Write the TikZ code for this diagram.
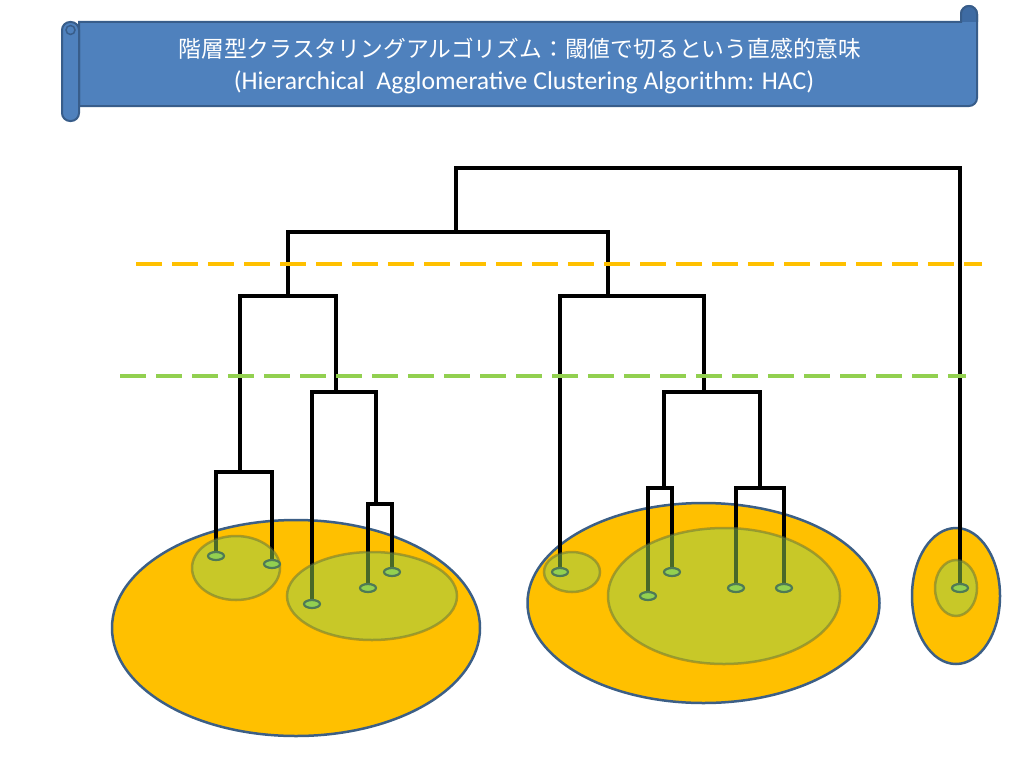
\documentclass[tikz,border=0pt]{standalone}
\usepackage{fontspec}
\setmainfont{Carlito}
\newfontfamily\jpfont{Noto Sans CJK JP}
\usepackage{tikz}
\usetikzlibrary{shapes,positioning}

\definecolor{scrollblue}{HTML}{4F81BD}
\definecolor{scrolledge}{HTML}{385D8A}
\definecolor{scrollshade}{HTML}{3E6BA3}
\definecolor{clusterorange}{HTML}{FFC000}
\definecolor{clusteredge}{HTML}{3C5F86}
\definecolor{subgreen}{HTML}{92D050}
\definecolor{subedge}{HTML}{60703A}
\definecolor{leafedge}{HTML}{4F7A55}

\begin{document}
\begin{tikzpicture}[x=1pt, y=-1pt,
          scroll/.style={draw=scrolledge, line width=2pt, fill=scrollblue},
          branch/.style={line width=3.4pt, black},
          cutline/.style={line width=3.4pt, dash pattern=on 26pt off 10pt},
          cluster/.style={draw=clusteredge, line width=2.5pt, fill=clusterorange},
          subcluster/.style={draw=subedge, line width=2.5pt, fill=subgreen, fill opacity=0.5, draw opacity=0.5},
          leaf/.style={ellipse, draw=leafedge, line width=2.2pt, fill=subgreen, minimum width=16pt, minimum height=8pt, inner sep=0pt}
        ]

          \useasboundingbox (0,0) rectangle (1024,768);

          % Title scroll
          \draw[scroll] (79,22) -- (961,22) -- (961,14) arc (180:360:8) -- (977,98) arc (0:90:8) -- (79,106) -- cycle;
          \draw[scroll, fill=scrollshade] (961,22) -- (961,14) arc (180:360:8) -- (977,22);
          \draw[scroll, rounded corners=8pt] (62,22) rectangle (79,121);
          \draw[scrolledge, line width=1.5pt] (70.5,30) circle (4.5);
          \node[font=\jpfont\fontsize{22.8}{27}\selectfont, text=white] (title) at (520,49) {階層型クラスタリングアルゴリズム：閾値で切るという直感的意味};
          \node[font=\fontsize{25.7}{30}\selectfont, text=white] (subtitle) at (524,82) {(Hierarchical\ \ Agglomerative Clustering Algorithm: HAC)};

          % Clusters at the coarse cut
          \draw[cluster] (296,628) ellipse [x radius=184, y radius=108];
          \draw[cluster] (703.5,603) ellipse [x radius=176, y radius=100];
          \draw[cluster] (956,596) ellipse [x radius=44, y radius=68];

          % Leaves and merge points
          \coordinate (l1) at (216,556);
          \coordinate (l2) at (272,564);
          \coordinate (l3) at (312,604);
          \coordinate (l4) at (368,588);
          \coordinate (l5) at (392,572);
          \coordinate (l6) at (560,572);
          \coordinate (l7) at (648,596);
          \coordinate (l8) at (672,572);
          \coordinate (l9) at (736,588);
          \coordinate (l10) at (784,588);
          \coordinate (l11) at (960,588);
          \coordinate (m1) at (240,472);
          \coordinate (m2) at (376,504);
          \coordinate (m3) at (336,392);
          \coordinate (m4) at (288,296);
          \coordinate (m5) at (664,488);
          \coordinate (m6) at (760,488);
          \coordinate (m7) at (704,392);
          \coordinate (m8) at (608,296);
          \coordinate (m9) at (456,232);
          \coordinate (root) at (708,168);

          % Dendrogram
          \draw[branch] (l1) |- (m1) -| (l2);
          \draw[branch] (l4) |- (m2) -| (l5);
          \draw[branch] (l3) |- (m3) -| (m2);
          \draw[branch] (m1) |- (m4) -| (m3);
          \draw[branch] (l7) |- (m5) -| (l8);
          \draw[branch] (l9) |- (m6) -| (l10);
          \draw[branch] (m5) |- (m7) -| (m6);
          \draw[branch] (l6) |- (m8) -| (m7);
          \draw[branch] (m4) |- (m9) -| (m8);
          \draw[branch] (m9) |- (root) -| (l11);

          % Thresholds
          \draw[cutline, clusterorange] (136,264) -- (982,264);
          \draw[cutline, subgreen] (120,376) -- (966,376);

          % Clusters at the fine cut
          \draw[subcluster] (236,568) ellipse [x radius=44, y radius=32];
          \draw[subcluster] (372,596) ellipse [x radius=85, y radius=44];
          \draw[subcluster] (572,572) ellipse [x radius=28, y radius=20];
          \draw[subcluster] (724,596) ellipse [x radius=116, y radius=68];
          \draw[subcluster] (956,588) ellipse [x radius=21, y radius=28];

          \node[leaf] (d1) at (l1) {};
          \node[leaf] (d2) at (l2) {};
          \node[leaf] (d3) at (l3) {};
          \node[leaf] (d4) at (l4) {};
          \node[leaf] (d5) at (l5) {};
          \node[leaf] (d6) at (l6) {};
          \node[leaf] (d7) at (l7) {};
          \node[leaf] (d8) at (l8) {};
          \node[leaf] (d9) at (l9) {};
          \node[leaf] (d10) at (l10) {};
          \node[leaf] (d11) at (l11) {};

        \end{tikzpicture}
\end{document}
